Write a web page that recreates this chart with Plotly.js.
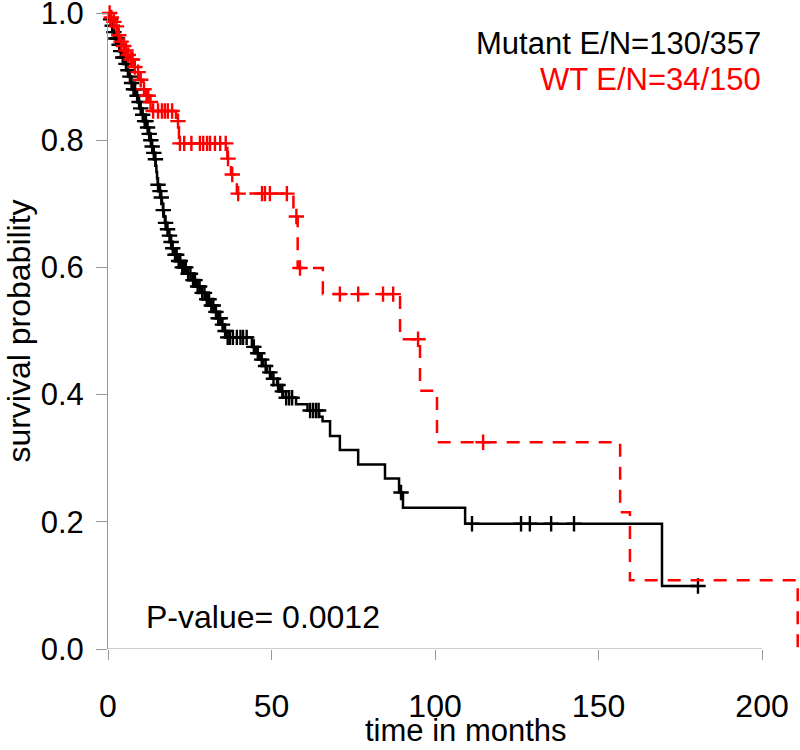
<!DOCTYPE html>
<html>
<head>
<meta charset="utf-8">
<script src="https://cdn.plot.ly/plotly-3.0.1.min.js"></script>
<style>
  html, body { margin: 0; padding: 0; background: #fff; }
  #chart { width: 800px; height: 750px; }
</style>
</head>
<body>
<div id="chart"></div>
<script>
// Mutant group: step times (months) and survival after each step
const mutTimes = [0, 0.5, 1.0, 1.5, 2.2, 3.0, 3.7, 4.4, 5.1, 5.8, 6.4, 7.0, 7.6, 8.4, 9.2, 9.8, 10.4, 11.0, 11.8, 12.4, 13.0, 13.4, 13.8, 14.2, 14.6, 14.8, 15.0, 15.2, 15.6, 16.0, 16.5, 16.8, 17.1, 17.4, 17.9, 18.4, 19.0, 19.5, 20.3, 21.3, 22.4, 24.0, 25.8, 27.0, 28.4, 29.8, 31.0, 32.4, 33.6, 34.6, 35.5, 36.4, 44.0, 45.2, 46.5, 47.5, 48.6, 50.0, 51.7, 52.6, 53.6, 57.5, 61.0, 64.6, 65.6, 67.9, 70.9, 76.5, 84.7, 89.0, 90.2, 109.2, 169.4];
const mutSurv = [1.0, 0.99, 0.98, 0.97, 0.96, 0.95, 0.94, 0.93, 0.92, 0.91, 0.90, 0.89, 0.88, 0.87, 0.86, 0.85, 0.84, 0.83, 0.82, 0.81, 0.80, 0.79, 0.78, 0.77, 0.76, 0.75, 0.74, 0.73, 0.72, 0.71, 0.70, 0.69, 0.68, 0.67, 0.66, 0.65, 0.64, 0.63, 0.62, 0.61, 0.60, 0.59, 0.58, 0.57, 0.56, 0.55, 0.54, 0.53, 0.52, 0.51, 0.50, 0.49, 0.475, 0.465, 0.455, 0.445, 0.435, 0.425, 0.415, 0.405, 0.395, 0.385, 0.375, 0.365, 0.358, 0.335, 0.313, 0.290, 0.268, 0.246, 0.222, 0.197, 0.099];
// Mutant group: censoring times (months)
const mutCensor = [0.8, 1.3, 1.8, 2.4, 2.9, 3.4, 3.9, 4.5, 5.0, 5.5, 6.1, 6.7, 7.2, 7.8, 8.3, 8.9, 9.5, 10.0, 10.6, 11.2, 11.6, 12.1, 12.6, 13.1, 13.5, 14.0, 14.5, 15.3, 15.9, 16.3, 16.9, 17.6, 18.2, 18.8, 19.3, 19.8, 20.5, 21.0, 21.6, 22.1, 22.7, 23.2, 23.8, 24.5, 25.2, 26.0, 26.6, 27.4, 28.0, 28.8, 29.5, 30.2, 30.9, 31.6, 32.2, 33.0, 33.7, 34.3, 35.0, 35.8, 36.6, 37.3, 38.2, 39.4, 40.5, 41.3, 42.4, 44.6, 45.8, 47.0, 48.2, 49.5, 50.6, 52.0, 53.3, 54.5, 55.4, 56.3, 61.8, 62.7, 63.6, 64.4, 89.6, 111.3, 126.3, 129.0, 135.5, 142.5, 180.4];

// WT group: step times (months) and survival after each step
const wtTimes = [0, 0.8, 1.5, 2.3, 3.0, 3.7, 4.5, 5.2, 5.8, 6.8, 7.8, 8.9, 9.7, 10.7, 11.5, 12.8, 13.6, 20.8, 21.7, 36.5, 37.6, 39.4, 56.7, 58.0, 65.7, 89.3, 95.4, 100.6, 156.6, 159.6, 210.9];
const wtSurv = [1.0, 0.993, 0.986, 0.979, 0.965, 0.955, 0.948, 0.941, 0.934, 0.927, 0.915, 0.907, 0.895, 0.88, 0.87, 0.86, 0.846, 0.83, 0.795, 0.771, 0.746, 0.716, 0.68, 0.599, 0.558, 0.487, 0.406, 0.325, 0.215, 0.108, 0];
// WT group: censoring times (months)
const wtCensor = [0.5, 1.0, 1.8, 2.6, 3.3, 4.0, 4.8, 5.5, 6.2, 7.0, 7.5, 8.2, 9.2, 10.0, 11.0, 11.8, 12.3, 13.0, 13.8, 15.3, 16.5, 17.4, 18.3, 19.6, 21.4, 22.0, 23.3, 25.5, 28.1, 29.1, 30.3, 31.2, 32.7, 34.3, 36.0, 36.7, 38.0, 39.8, 47.1, 48.0, 49.5, 54.7, 57.6, 58.7, 70.9, 76.5, 84.1, 87.2, 94.8, 114.7];

const xTickVals = [0, 50, 100, 150, 200];
const yTickVals = [0, 0.2, 0.4, 0.6, 0.8, 1.0];
const xTitle = "time in months";
const yTitle = "survival probability";
const legendMutant = "Mutant E/N=130/357";
const legendWT = "WT E/N=34/150";
const pText = "P-value= 0.0012";

function survAt(times, surv, t) {
  let s = surv[0];
  for (let i = 0; i < times.length; i++) {
    if (times[i] <= t) s = surv[i]; else break;
  }
  return s;
}
function extendTo(times, surv, tEnd) {
  const x = times.slice(), y = surv.slice();
  if (tEnd > x[x.length - 1]) { x.push(tEnd); y.push(y[y.length - 1]); }
  return {x, y};
}

const FONT = '"Liberation Sans", Arial, Helvetica, sans-serif';
const mutLine = extendTo(mutTimes, mutSurv, mutCensor[mutCensor.length - 1]);
const wtLine = extendTo(wtTimes, wtSurv, wtCensor[wtCensor.length - 1]);

const crossMarker = (c) => ({symbol: 'cross-thin', size: 11, color: c, line: {color: c, width: 2.4}});

const traces = [
  {x: mutLine.x, y: mutLine.y, mode: 'lines', line: {shape: 'hv', color: '#000000', width: 2.5},
   showlegend: false, hoverinfo: 'skip', cliponaxis: false},
  {x: mutCensor, y: mutCensor.map(t => survAt(mutTimes, mutSurv, t)), mode: 'markers',
   marker: crossMarker('#000000'), showlegend: false, cliponaxis: false},
  {x: wtLine.x, y: wtLine.y, mode: 'lines', line: {shape: 'hv', color: '#ff0000', width: 2.5, dash: '13px,10px'},
   showlegend: false, hoverinfo: 'skip', cliponaxis: false},
  {x: wtCensor, y: wtCensor.map(t => survAt(wtTimes, wtSurv, t)), mode: 'markers',
   marker: crossMarker('#ff0000'), showlegend: false, cliponaxis: false}
];

const layout = {
  width: 800, height: 750,
  margin: {l: 108, r: 0, t: 13, b: 101, pad: 0},
  paper_bgcolor: '#ffffff', plot_bgcolor: '#ffffff',
  font: {family: FONT, size: 32, color: '#000000'},
  showlegend: false,
  xaxis: {
    range: [0, 211.6], tickvals: xTickVals, ticks: 'outside', ticklen: 10, tickwidth: 1, tickcolor: '#999999',
    showline: false, showgrid: false, zeroline: false, tickfont: {size: 32, family: FONT},
    ticklabelstandoff: 19, ticklabeloverflow: 'allow'
  },
  yaxis: {
    range: [0, 1], tickvals: yTickVals, tickformat: '.1f', ticks: 'outside', ticklen: 11, tickwidth: 1, tickcolor: '#999999',
    showline: true, linecolor: '#999999', linewidth: 1, showgrid: false, zeroline: false,
    tickfont: {size: 31, family: FONT}, ticklabelstandoff: 6, ticklabeloverflow: 'allow',
    title: {text: yTitle, font: {size: 32, family: FONT}, standoff: 0}
  },
  shapes: [
    {type: 'line', xref: 'x', yref: 'y', x0: xTickVals[0], x1: xTickVals[xTickVals.length - 1], y0: 0, y1: 0,
     line: {color: '#999999', width: 1}, layer: 'below'}
  ],
  annotations: [
    {xref: 'paper', yref: 'paper', x: 0.518, y: -0.128, xanchor: 'center', yanchor: 'middle', text: xTitle,
     showarrow: false, font: {size: 31, color: '#000000', family: FONT}, borderpad: 0},
    {xref: 'x', yref: 'y', x: 200, y: 0.952, xanchor: 'right', yanchor: 'middle', text: legendMutant,
     showarrow: false, font: {size: 31, color: '#000000', family: FONT}, borderpad: 0},
    {xref: 'x', yref: 'y', x: 200, y: 0.896, xanchor: 'right', yanchor: 'middle', text: legendWT,
     showarrow: false, font: {size: 31, color: '#ff0000', family: FONT}, borderpad: 0},
    {xref: 'x', yref: 'y', x: 11, y: 0.05, xanchor: 'left', yanchor: 'middle', text: pText,
     showarrow: false, font: {size: 32, color: '#000000', family: FONT}}
  ]
};

Plotly.newPlot('chart', traces, layout, {displayModeBar: false, staticPlot: true});
</script>
</body>
</html>
